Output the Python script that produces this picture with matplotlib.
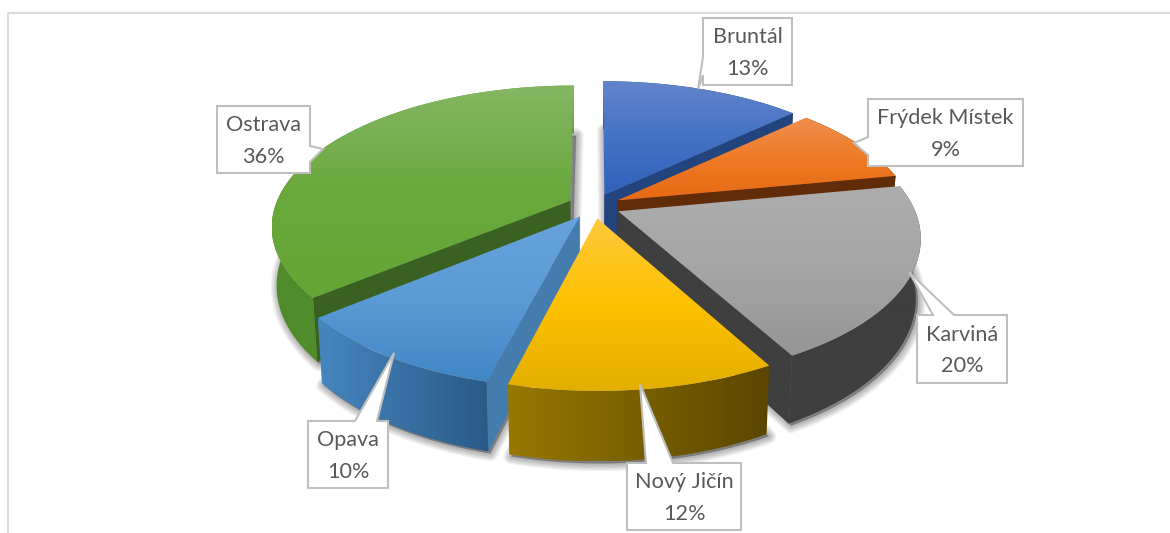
import numpy as np
import matplotlib
matplotlib.use('Agg')
import matplotlib.pyplot as plt
from matplotlib.colors import LinearSegmentedColormap
from matplotlib.patches import Polygon

plt.rcParams['font.family'] = ['Lato', 'DejaVu Sans']

# data, clockwise from the top
names = ['Bruntál', 'Frýdek Místek', 'Karviná', 'Nový Jičín', 'Opava', 'Ostrava']
values = [13, 9, 20, 12, 10, 36]

# colours: top gradient, rim gradient (left, right), cut face
top_cols = [('#6384cb', '#4472c4', '#2f62bb'), ('#f08f52', '#ee7a25', '#e86a14'),
            ('#adadad', '#a5a5a5', '#959595'), ('#ffc83c', '#fdc100', '#e4ae00'),
            ('#68a2dd', '#5b9bd5', '#3f87c6'), ('#85b763', '#6aa83c', '#65a535')]
rim_cols = [('#23447c', '#23447c'), ('#622c08', '#622c08'), ('#3f3f3f', '#3f3f3f'),
            ('#977800', '#5a4600'), ('#4686bf', '#2a5a88'), ('#4f8a2b', '#5f9e38')]
cut_cols = ['#23447c', '#622c08', '#3f3f3f', '#5a4600', '#457cae', '#3b6122']

# label boxes in pixels: x0, x1, y0, y1, tail base a, tail tip, tail base b
boxes = {
    'Bruntál': (703, 792, 18, 85, (703, 57), (698, 89), (703, 75)),
    'Frýdek Místek': (868, 1023, 99, 166, (868, 137), (854, 143), (868, 155)),
    'Karviná': (917, 1007, 315, 383, (933, 315), (909, 272), (954, 315)),
    'Nový Jičín': (627, 741, 463, 530, (646, 463), (640, 384), (673, 463)),
    'Opava': (308, 388, 421, 488, (355, 421), (394, 353), (377, 421)),
    'Ostrava': (217, 310, 106, 173, (310, 146), (323, 149), (310, 162)),
}

CX, CY = 594, 206
RX, RY = 295, 137.2
PERSP = 0.176
EXPLODE = 0.09
HEIGHT = 57
SHRINK = 0.985


def project(u, v, low=False):
    w = 1 + PERSP * v
    x = RX * u / w
    y = -RY * v / w
    if low:
        return CX + x * SHRINK, CY + y + HEIGHT / w
    return CX + x, CY + y


def gradient(ax, poly, cols, vertical=True, zorder=1):
    # gradient image clipped to the polygon
    xs, ys = poly[:, 0], poly[:, 1]
    cmap = LinearSegmentedColormap.from_list('g', list(cols))
    ramp = np.linspace(0, 1, 200)
    img = ramp[:, None] if vertical else ramp[None, :]
    im = ax.imshow(img, cmap=cmap, aspect='auto', zorder=zorder,
                   extent=(xs.min(), xs.max(), ys.max(), ys.min()))
    patch = Polygon(poly, closed=True, transform=ax.transData, fc='none', ec='none')
    ax.add_patch(patch)
    im.set_clip_path(patch)


fig = plt.figure(figsize=(11.7, 5.33), dpi=100)
ax = fig.add_axes([0, 0, 1, 1])
ax.axis('off')

# chart frame
ax.plot([7.5, 7.5, 1170], [533, 13, 13], color='#dcdcdc', lw=1.5, zorder=0)

frac = np.array(values) / sum(values) * 2 * np.pi
ends = np.cumsum(frac)
starts = ends - frac

z = 1
for i in [0, 5, 1, 2, 4, 3]:  # back to front
    mid = (starts[i] + ends[i]) / 2
    ou, ov = EXPLODE * np.sin(mid), EXPLODE * np.cos(mid)
    th = np.linspace(starts[i], ends[i], 120)
    u, v = ou + np.sin(th), ov + np.cos(th)
    tx, ty = project(u, v)
    bx, by = project(u, v, low=True)
    t0 = project(ou, ov)
    b0 = project(ou, ov, low=True)
    top = np.column_stack([np.r_[t0[0], tx], np.r_[t0[1], ty]])
    bottom = np.column_stack([np.r_[b0[0], bx], np.r_[b0[1], by]])

    # soft shadow under the slice
    for lw in np.arange(11, 0, -2):
        ax.add_patch(Polygon(bottom + [2, 2], closed=True, fc='black', ec='black',
                             alpha=0.06, lw=lw, joinstyle='round', zorder=z))
    z += 1
    # cut faces, only those turned to the viewer
    if np.sin(starts[i]) < -1e-6:
        face = np.array([t0, (tx[0], ty[0]), (bx[0], by[0]), b0])
        ax.add_patch(Polygon(face, closed=True, fc=cut_cols[i], ec=cut_cols[i], lw=0.4, zorder=z))
    if np.sin(ends[i]) > 1e-6:
        face = np.array([t0, (tx[-1], ty[-1]), (bx[-1], by[-1]), b0])
        ax.add_patch(Polygon(face, closed=True, fc=cut_cols[i], ec=cut_cols[i], lw=0.4, zorder=z))
    z += 1
    # outer rim
    rim = np.vstack([np.column_stack([tx, ty]), np.column_stack([bx, by])[::-1]])
    gradient(ax, rim, rim_cols[i], vertical=False, zorder=z)
    z += 1
    # top face
    gradient(ax, top, top_cols[i], zorder=z)
    z += 1

# data labels
for name, val in zip(names, values):
    x0, x1, y0, y1, a, tip, b = boxes[name]
    # put the tail in the right edge of the outline
    if a[1] == y0 and b[1] == y0:
        outline = [(x0, y0), a, tip, b, (x1, y0), (x1, y1), (x0, y1)]
    elif a[0] == x0:
        outline = [(x0, y0), (x1, y0), (x1, y1), (x0, y1), b, tip, a]
    else:
        outline = [(x0, y0), (x1, y0), a, tip, b, (x1, y1), (x0, y1)]
    ax.add_patch(Polygon(outline, closed=True, fc='white', ec='#bfbfbf', lw=1.5,
                         joinstyle='miter', zorder=100))
    ax.text((x0 + x1) / 2, (y0 + y1) / 2 + 1.5, f'{name}\n{val}%', ha='center', va='center',
            fontsize=15.6, color='#595959', linespacing=1.7, zorder=101)

ax.set_xlim(0, 1170)
ax.set_ylim(533, 0)
fig.savefig('out.png', dpi=100)
